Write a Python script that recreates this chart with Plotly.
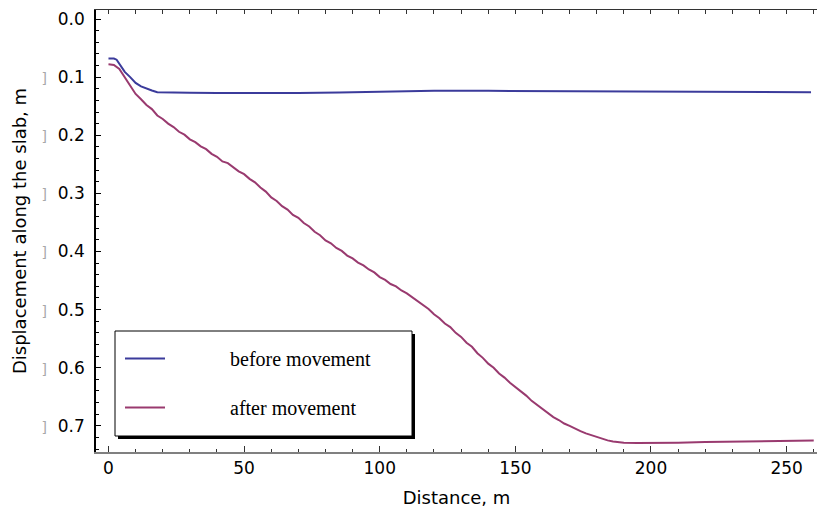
import plotly.graph_objects as go

# ---- data ----
dist_before = [0, 2, 3, 4, 6, 8, 10, 12, 14, 16, 18, 20, 25, 30, 40, 50, 60, 70, 85,
               100, 110, 120, 140, 160, 180, 200, 220, 240, 259]
disp_before = [-0.068, -0.068, -0.070, -0.077, -0.091, -0.100, -0.110, -0.116, -0.120,
               -0.123, -0.126, -0.126, -0.1265, -0.127, -0.1275, -0.1275, -0.128, -0.1275,
               -0.1265, -0.125, -0.124, -0.1235, -0.1235, -0.124, -0.1245, -0.125,
               -0.1255, -0.1258, -0.126]

dist_after = [0, 2, 4, 6, 8, 10, 12, 14, 16, 18, 20, 22, 24, 26, 28, 30, 32, 34, 36, 38,
              40, 42, 44, 46, 48, 50, 52, 54, 56, 58, 60, 62, 64, 66, 68, 70, 72, 74, 76,
              78, 80, 82, 84, 86, 88, 90, 92, 94, 96, 98, 100, 102, 104, 106, 108, 110,
              112, 114, 116, 118, 120, 122, 124, 126, 128, 130, 132, 134, 136, 138, 140,
              142, 144, 146, 148, 150, 152, 154, 156, 158, 160, 162, 164, 166, 168, 170,
              172, 174, 176, 178, 180, 182, 184, 186, 188, 190, 195, 200, 210, 220, 230,
              240, 250, 260]
disp_after = [-0.078, -0.079, -0.086, -0.100, -0.113, -0.129, -0.138, -0.148, -0.155,
              -0.166, -0.172, -0.180, -0.186, -0.194, -0.199, -0.207, -0.212, -0.219,
              -0.224, -0.232, -0.237, -0.245, -0.248, -0.255, -0.262, -0.267, -0.275,
              -0.281, -0.290, -0.297, -0.307, -0.313, -0.322, -0.328, -0.337, -0.342,
              -0.351, -0.357, -0.366, -0.372, -0.381, -0.386, -0.394, -0.399, -0.407,
              -0.412, -0.419, -0.424, -0.431, -0.436, -0.444, -0.449, -0.456, -0.460,
              -0.467, -0.472, -0.479, -0.485, -0.492, -0.499, -0.508, -0.515, -0.524,
              -0.530, -0.540, -0.547, -0.557, -0.564, -0.575, -0.583, -0.593, -0.600,
              -0.610, -0.617, -0.626, -0.633, -0.641, -0.648, -0.657, -0.664, -0.672,
              -0.678, -0.685, -0.690, -0.696, -0.700, -0.705, -0.709, -0.713, -0.716,
              -0.720, -0.722, -0.725, -0.727, -0.728, -0.729, -0.7295, -0.7295, -0.729,
              -0.728, -0.727, -0.726, -0.7255, -0.725]

x_ticks = [0, 50, 100, 150, 200, 250]
y_ticks = [0.0, -0.1, -0.2, -0.3, -0.4, -0.5, -0.6, -0.7]
y_labels = ["0.0", "0.1", "0.2", "0.3", "0.4", "0.5", "0.6", "0.7"]
series_names = ["before movement", "after movement"]

BLUE = "#3b3b9b"
PURPLE = "#993a6f"
box = '<span style="color:#a8a8a8;font-size:14px">]</span>\u00a0\u00a0'
y_text = [lab if v == 0 else box + lab for v, lab in zip(y_ticks, y_labels)]
pad = "\u00a0" * 12

fig = go.Figure()
fig.add_trace(go.Scatter(x=dist_before, y=disp_before, mode="lines",
                         name=pad + series_names[0], legendgroup="a",
                         line=dict(color=BLUE, width=2)))
fig.add_trace(go.Scatter(x=dist_after, y=disp_after, mode="lines",
                         name=pad + series_names[1], legendgroup="b",
                         line=dict(color=PURPLE, width=2)))
# invisible trace to carry the top frame axis
fig.add_trace(go.Scatter(x=dist_before, y=disp_before, xaxis="x2", mode="lines",
                         line=dict(color="rgba(0,0,0,0)"), hoverinfo="skip",
                         showlegend=False))

W, H = 819, 517
L, R, T, B = 96, 2, 10, 65
pw, ph = W - L - R, H - T - B

def px(x):
    return (x - L) / pw

def py(y):
    return (H - B - y) / ph

tick_font = dict(family="DejaVu Sans", size=17, color="black")
title_font = dict(family="DejaVu Sans", size=18, color="black")

fig.update_layout(
    width=W, height=H,
    margin=dict(l=L, r=R, t=T, b=B, autoexpand=False),
    paper_bgcolor="white", plot_bgcolor="white",
    xaxis=dict(range=[-4.6, 261.2], tickmode="array", tickvals=x_ticks,
               ticks="inside", ticklen=6, tickwidth=1, tickcolor="#333333",
               minor=dict(tickmode="linear", tick0=0, dtick=10, ticks="inside",
                          ticklen=3, tickcolor="#333333"),
               showline=True, linecolor="#808080", linewidth=2, automargin=False,
               showgrid=False, zeroline=False, tickfont=tick_font,
               title=dict(text="Distance, m", font=title_font, standoff=14)),
    xaxis2=dict(range=[-4.6, 261.2], overlaying="x", side="top",
                tickmode="linear", tick0=0, dtick=10, ticks="inside", ticklen=4,
                tickcolor="#333333", showline=True, linecolor="#333333", linewidth=1,
                showticklabels=False, showgrid=False, zeroline=False, automargin=False),
    yaxis=dict(range=[-0.745, 0.0155], tickmode="array", tickvals=y_ticks,
               ticktext=y_text, ticks="inside", ticklen=5, tickcolor="black",
               minor=dict(tickmode="linear", tick0=0, dtick=0.02, ticks="inside",
                          ticklen=3, tickcolor="black"),
               showline=True, linecolor="black", linewidth=1.5, automargin=False,
               showgrid=False, zeroline=False, tickfont=tick_font,
               ticklabelstandoff=6,
               title=dict(text="Displacement along the slab, m", font=title_font,
                          standoff=10)),
    showlegend=True,
    legend=dict(x=px(120), y=py(339), xanchor="left", yanchor="top",
                bgcolor="rgba(0,0,0,0)", borderwidth=0,
                font=dict(family="Liberation Serif", size=20, color="black"),
                tracegroupgap=20, itemwidth=40),
    shapes=[
        dict(type="rect", xref="paper", yref="paper",
             x0=px(118), x1=px(415), y0=py(439), y1=py(334),
             fillcolor="black", line=dict(width=0), layer="above"),
        dict(type="rect", xref="paper", yref="paper",
             x0=px(115), x1=px(412), y0=py(436), y1=py(331),
             fillcolor="white", line=dict(color="black", width=1), layer="above"),
    ],
)

fig.write_html("out.html",
               config={"displayModeBar": False},
               post_script="document.body.style.margin='0';"
                           "document.body.style.overflow='hidden';")
